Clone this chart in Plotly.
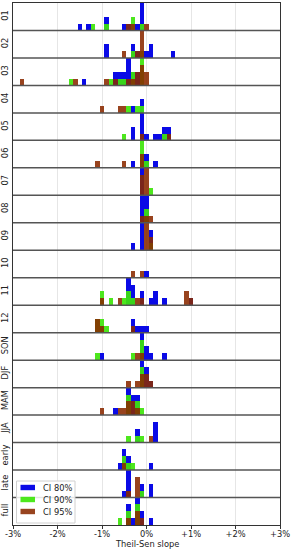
import plotly.graph_objects as go

ROWS = ["01", "02", "03", "04", "05", "06", "07", "08", "09", "10", "11", "12",
        "SON", "DJF", "MAM", "JJA", "early", "late", "full"]

# counts per 0.1 %-bin (key = bin index, bin centre = index * 0.1 %)
CI80 = [
    {-15: 1, -13: 1, -9: 2, -5: 1, -4: 1, -2: 1, -1: 4},
    {-9: 2, -3: 2, -2: 1, 0: 1, 1: 2, 6: 1},
    {-14: 1, -7: 2, -6: 2, -5: 2, -4: 4, -3: 2, -2: 2},
    {-3: 1, -1: 2},
    {-3: 2, -1: 4, 0: 1, 2: 1, 3: 1, 4: 2, 5: 2},
    {-3: 1, 0: 2, 2: 1},
    {-1: 4},
    {-1: 4, 0: 4},
    {-3: 1, -1: 4, 1: 3},
    {0: 1},
    {-4: 4, -3: 3, -1: 2, 1: 1, 2: 2, 4: 1, 10: 1},
    {-3: 2, -2: 1, -1: 1, 0: 1},
    {-10: 1, -1: 4, 0: 2, 1: 1, 4: 1},
    {-1: 4, 0: 3, 1: 1},
    {-7: 1, -4: 4, -3: 3, -2: 3},
    {-2: 2, 2: 3},
    {-6: 1, -5: 3, -4: 2, 1: 1},
    {-5: 1, -4: 4, -1: 2, 1: 2},
    {-4: 3, -3: 1, -2: 4, -1: 2, 1: 1},
]
CI90 = [
    {-12: 1, -9: 1, -3: 2, -1: 1},
    {-3: 1, -1: 1},
    {-17: 1, -8: 1, -6: 1, -5: 1, -3: 2, -1: 4},
    {-4: 1, -2: 1, -1: 1},
    {-5: 1, 4: 1},
    {-1: 4, 0: 1},
    {1: 1},
    {0: 2},
    {1: 1},
    {},
    {-10: 2, -8: 1, -5: 1, -4: 2, -3: 1},
    {-11: 2, -10: 2, -9: 1},
    {-11: 1, -3: 1, -1: 3},
    {-1: 3},
    {-4: 3, -2: 2, -1: 1},
    {-4: 1, -2: 1, -1: 1},
    {-5: 2, -4: 1, -3: 1},
    {-1: 1},
    {-6: 1, -4: 2, -2: 3},
]
CI95 = [
    {-4: 1, -3: 1, 0: 1},
    {-5: 1, -2: 1, -1: 4},
    {-28: 1, -16: 1, -9: 1, -7: 1, -4: 1, -3: 1, -2: 2, -1: 3, 0: 2},
    {-10: 1, -6: 1, -5: 1},
    {-1: 1, 5: 1},
    {-11: 1, -5: 1, -1: 2},
    {-1: 3, 0: 4},
    {-1: 1, 0: 1, 1: 1},
    {0: 4, 1: 2},
    {-3: 1, -1: 1},
    {-10: 1, -6: 1, -2: 1, -1: 1, 9: 2, 10: 1},
    {-11: 2, -10: 1, -3: 1},
    {-2: 1, -1: 1},
    {-4: 1, -2: 1, -1: 2, 0: 2, 1: 1},
    {-10: 1, -6: 1, -5: 1, -4: 2, -3: 2, -2: 1},
    {1: 1},
    {-5: 1},
    {-4: 1, -2: 3},
    {-4: 1, -2: 2, -1: 1},
]
SERIES = [("CI 80%", CI80), ("CI 90%", CI90), ("CI 95%", CI95)]
X_TICKS = [-3, -2, -1, 0, 1, 2, 3]
X_LABELS = ["-3%", "-2%", "-1%", "0%", "+1%", "+2%", "+3%"]

BIN = 0.1
ROW_H = 4
N = len(ROWS)
COLORS = {"CI 80%": "#0a0ae6", "CI 90%": "#3ee60a", "CI 95%": "#8a2a00"}
OPAC = {"CI 80%": 1.0, "CI 90%": 0.92, "CI 95%": 0.88}

W, H = 292, 550
ML, MR, MT, MB = 13, 12, 3, 25
PW, PH = W - ML - MR, H - MT - MB


def px_x(px):
    return (px - ML) / PW


def px_y(py):
    return (H - MB - py) / PH


fig = go.Figure()
for name, data in SERIES:
    xs, ys, bases = [], [], []
    for i, row in enumerate(data):
        base = (N - 1 - i) * ROW_H
        for k, c in row.items():
            xs.append(k * BIN)
            ys.append(c)
            bases.append(base)
    fig.add_trace(go.Bar(
        x=xs, y=ys, base=bases, width=BIN, name=name,
        marker=dict(color=COLORS[name], line=dict(width=0)),
        opacity=OPAC[name], showlegend=False,
    ))

shapes = []
for i in range(1, N):
    shapes.append(dict(type="line", xref="paper", x0=0, x1=1, yref="y",
                       y0=i * ROW_H, y1=i * ROW_H,
                       line=dict(color="#555555", width=1.5)))

FONT = "DejaVu Sans, sans-serif"
FS = 8.3
annotations = []

# legend box (drawn by hand, matplotlib style)
shapes.append(dict(type="rect", xref="paper", yref="paper",
                   x0=px_x(16.5), x1=px_x(75), y0=px_y(523), y1=px_y(481),
                   fillcolor="rgba(255,255,255,0.85)",
                   line=dict(color="#d0d0d0", width=1)))
for j, (name, _) in enumerate(SERIES):
    cy = 487.5 + 12 * j
    shapes.append(dict(type="rect", xref="paper", yref="paper",
                       x0=px_x(20.5), x1=px_x(35), y0=px_y(cy + 2.7), y1=px_y(cy - 2.7),
                       fillcolor=COLORS[name], opacity=OPAC[name], line=dict(width=0)))
    annotations.append(dict(xref="paper", yref="paper", x=px_x(41), y=px_y(cy),
                            xanchor="left", yanchor="middle", showarrow=False,
                            text=name, font=dict(size=FS, color="#222")))

annotations.append(dict(xref="paper", yref="paper", x=0.5, y=px_y(544),
                        xanchor="center", yanchor="middle", showarrow=False,
                        text="Theil-Sen slope", font=dict(size=FS, color="#222")))

fig.update_layout(
    width=W, height=H,
    margin=dict(l=ML, r=MR, t=MT, b=MB, autoexpand=False),
    paper_bgcolor="white", plot_bgcolor="white",
    barmode="overlay", bargap=0,
    shapes=shapes, annotations=annotations,
    font=dict(family=FONT, size=FS, color="#222"),
    showlegend=False,
)
fig.update_xaxes(
    range=[-3, 3], tickvals=X_TICKS, ticktext=X_LABELS,
    showgrid=True, gridcolor="#e6e6e6", gridwidth=1,
    showline=True, linecolor="#333", mirror=True, linewidth=1,
    ticks="outside", ticklen=3, tickcolor="#333",
    zeroline=False, automargin=False, ticklabeloverflow="allow",
    ticklabelstandoff=-2,
    tickfont=dict(size=FS),
)
fig.update_yaxes(
    range=[0, N * ROW_H],
    tickvals=[(N - 1 - i) * ROW_H + ROW_H / 2 for i in range(N)],
    ticktext=ROWS, tickangle=-90, tickfont=dict(size=FS),
    showgrid=False, zeroline=False, automargin=False,
    showline=True, linecolor="#333", mirror=True, linewidth=1,
    ticks="", ticklabelstandoff=1,
)

fig.write_html("out.html", config={"displayModeBar": False},
               post_script="document.body.style.margin='0';")
